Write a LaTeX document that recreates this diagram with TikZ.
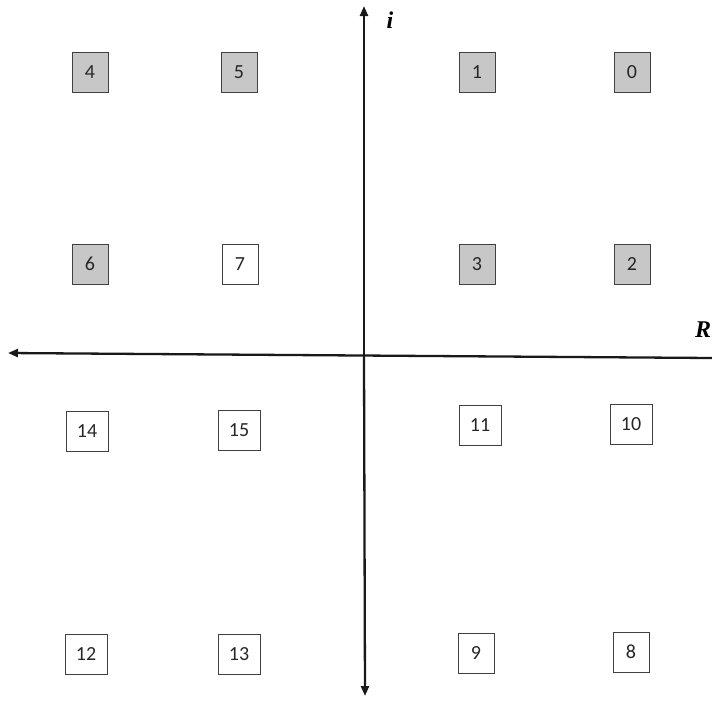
\documentclass[tikz,border=0pt]{standalone}
\usepackage{fontspec}
\setmainfont{Carlito}
\newfontfamily\axisfont{Liberation Serif}
\usetikzlibrary{arrows.meta}
\begin{document}
\begin{tikzpicture}[x=1pt,y=-1pt,
  pt/.style={draw=black!75,line width=1pt,minimum height=40pt,minimum width=36pt,inner sep=0pt,font=\fontsize{20}{22}\selectfont,text=black!85},
  wide/.style={minimum width=42pt},
  shaded/.style={fill=black!22},
  axis/.style={line width=2.3pt,draw=black!90,-{Triangle[length=10pt,width=8pt]}},
  axlabel/.style={font=\axisfont\bfseries\itshape\fontsize{24}{26}\selectfont}]
\useasboundingbox (0,0) rectangle (712,702);
% axes
\coordinate (xr) at (712,358);
\coordinate (xl) at (8,353);
\coordinate (yc) at (364,357);
\coordinate (yt) at (364,6);
\coordinate (yb) at (365,696);
\draw[axis] (xr) -- (xl);
\draw[axis] (yc) -- (yt);
\draw[axis] (yc) -- (yb);
\node[axlabel] (ilab) at (390,20) {i};
\node[axlabel] (rlab) at (703,330) {R};
% points
\node[pt,shaded] (p0) at (632,72) {0};
\node[pt,shaded] (p1) at (477,72) {1};
\node[pt,shaded] (p4) at (90,72) {4};
\node[pt,shaded] (p5) at (239,72) {5};
\node[pt,shaded] (p2) at (632,264) {2};
\node[pt,shaded] (p3) at (477,264) {3};
\node[pt,shaded] (p6) at (90,264) {6};
\node[pt] (p7) at (240,264) {7};
\node[pt,wide] (p14) at (87,431) {14};
\node[pt,wide] (p15) at (239,430) {15};
\node[pt,wide] (p11) at (480,425) {11};
\node[pt,wide] (p10) at (631,424) {10};
\node[pt,wide] (p12) at (86,654) {12};
\node[pt,wide] (p13) at (239,654) {13};
\node[pt] (p9) at (476,653) {9};
\node[pt] (p8) at (631,652) {8};
\end{tikzpicture}
\end{document}
